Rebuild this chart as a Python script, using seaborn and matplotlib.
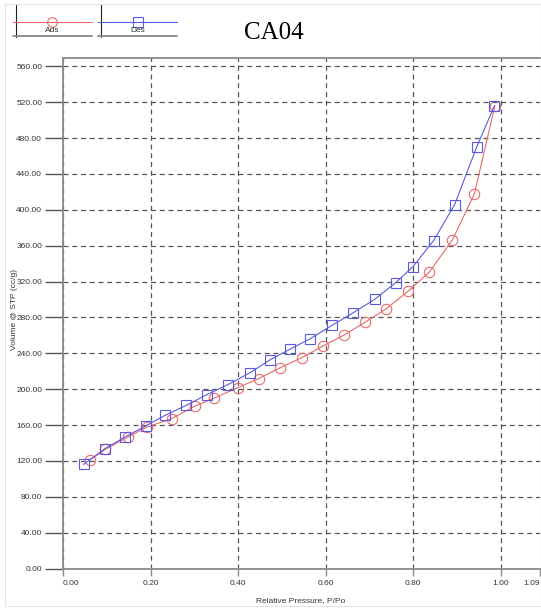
import numpy as np
import pandas as pd
import matplotlib
matplotlib.use("Agg")
import matplotlib.pyplot as plt
from matplotlib.lines import Line2D
from matplotlib.patches import Rectangle
import seaborn as sns

# Adsorption branch (red circles)
ads_p = [0.061, 0.097, 0.149, 0.193, 0.248, 0.301, 0.346, 0.400, 0.447, 0.495,
         0.546, 0.594, 0.641, 0.691, 0.739, 0.788, 0.837, 0.890, 0.940, 0.987]
ads_v = [120.8, 133.0, 146.8, 158.0, 167.0, 181.0, 190.2, 201.8, 211.8, 223.6,
         235.2, 248.1, 260.0, 274.8, 289.8, 309.0, 330.5, 366.6, 417.8, 516.0]

# Desorption branch (blue squares)
des_p = [0.047, 0.095, 0.142, 0.189, 0.234, 0.282, 0.329, 0.377, 0.428, 0.474, 0.518,
         0.565, 0.615, 0.662, 0.712, 0.760, 0.800, 0.847, 0.895, 0.945, 0.986]
des_v = [116.0, 133.4, 146.8, 159.0, 171.0, 182.0, 194.0, 205.1, 218.5, 233.0, 244.4,
         256.3, 271.2, 284.9, 300.1, 318.7, 336.8, 365.8, 405.9, 469.7, 516.2]

x_ticks = [0.0, 0.2, 0.4, 0.6, 0.8, 1.0, 1.09]
x_tick_labels = ["0.00", "0.20", "0.40", "0.60", "0.80", "1.00", "1.09"]
y_ticks = list(range(0, 561, 40))

ads_color = "#e86a6a"
des_color = "#5a5ae0"

sns.set_style("white")
plt.rcParams["font.family"] = ["Liberation Sans", "DejaVu Sans"]

W, H = 541, 610
fig = plt.figure(figsize=(W / 100, H / 100), dpi=100)
ax = fig.add_axes([63 / W, 1 - 568.5 / H, (540 - 63) / W, (568.5 - 58.3) / H])


def fx(px):
    return px / W


def fy(py):
    return 1 - py / H


df_ads = pd.DataFrame({"p": ads_p, "v": ads_v})
df_des = pd.DataFrame({"p": des_p, "v": des_v})

sns.lineplot(data=df_ads, x="p", y="v", ax=ax, sort=False, color=ads_color, lw=0.8,
             marker="o", markersize=7.5, markerfacecolor="none",
             markeredgecolor=ads_color, markeredgewidth=0.8, zorder=3)
sns.lineplot(data=df_des, x="p", y="v", ax=ax, sort=False, color=des_color, lw=0.8,
             marker="s", markersize=7.5, markerfacecolor="none",
             markeredgecolor=des_color, markeredgewidth=0.8, zorder=4)

ax.set_xlim(0, 1.09)
ax.set_ylim(0, 569)
ax.set_xticks(x_ticks)
ax.set_xticklabels(x_tick_labels)
ax.set_yticks(y_ticks)
ax.set_yticklabels([f"{v:.2f}" for v in y_ticks])
labels = ax.get_xticklabels()
labels[0].set_ha("left")
labels[-1].set_ha("right")

ax.tick_params(axis="y", length=13, width=1, color="#555555", labelsize=6,
               labelcolor="#333333", pad=2, left=True)
ax.tick_params(axis="x", length=5, width=1, color="#888888", labelsize=6,
               labelcolor="#333333", pad=3, bottom=True)

# dashed grid, skip the 1.09 end tick
for v in y_ticks:
    ax.axhline(v, color="#555555", lw=0.9, ls=(0, (4, 3)), zorder=1)
for v in x_ticks[:-1]:
    ax.axvline(v, color="#555555", lw=0.9, ls=(0, (4, 3)), zorder=1)
ax.grid(False)

for side in ["left", "bottom", "top"]:
    ax.spines[side].set_color("#8a8a8a")
    ax.spines[side].set_linewidth(1.3)
ax.spines["right"].set_visible(False)

ax.set_xlabel("")
ax.set_ylabel("")
fig.text(fx(301), fy(601), "Relative Pressure, P/Po", fontsize=6, color="#333333",
         ha="center", va="center")
fig.text(fx(15), fy(310), "Volume @ STP (cc/g)", fontsize=6, color="#333333",
         ha="center", va="center", rotation=90)

fig.text(fx(274), fy(33), "CA04", fontsize=18, family="Liberation Serif",
         ha="center", va="center", color="black")

# faint page border
fig.add_artist(Rectangle((fx(5), fy(606)), fx(541) - fx(5), fy(4) - fy(606),
                         transform=fig.transFigure, fill=False,
                         edgecolor="#e4e4e4", lw=0.8))

# custom legend boxes at top left
for x0, x1, color, mk, label in [(13, 92, ads_color, "o", "Ads"),
                                  (98, 177, des_color, "s", "Des")]:
    xm = (x0 + x1) / 2
    fig.add_artist(Line2D([fx(x0 + 3)] * 2, [fy(5), fy(37)], transform=fig.transFigure,
                          color="#222222", lw=0.8))
    fig.add_artist(Line2D([fx(x0), fx(x1)], [fy(36)] * 2, transform=fig.transFigure,
                          color="#888888", lw=1.3))
    fig.add_artist(Line2D([fx(x0), fx(x1)], [fy(22)] * 2, transform=fig.transFigure,
                          color=color, lw=0.8))
    fig.add_artist(Line2D([fx(xm)], [fy(22)], transform=fig.transFigure, marker=mk,
                          markersize=7, markerfacecolor="none", markeredgecolor=color,
                          markeredgewidth=0.8, lw=0))
    fig.text(fx(xm), fy(30.5), label, fontsize=6, ha="center", va="center",
             color="#333333")

fig.savefig("out.png", dpi=100)
